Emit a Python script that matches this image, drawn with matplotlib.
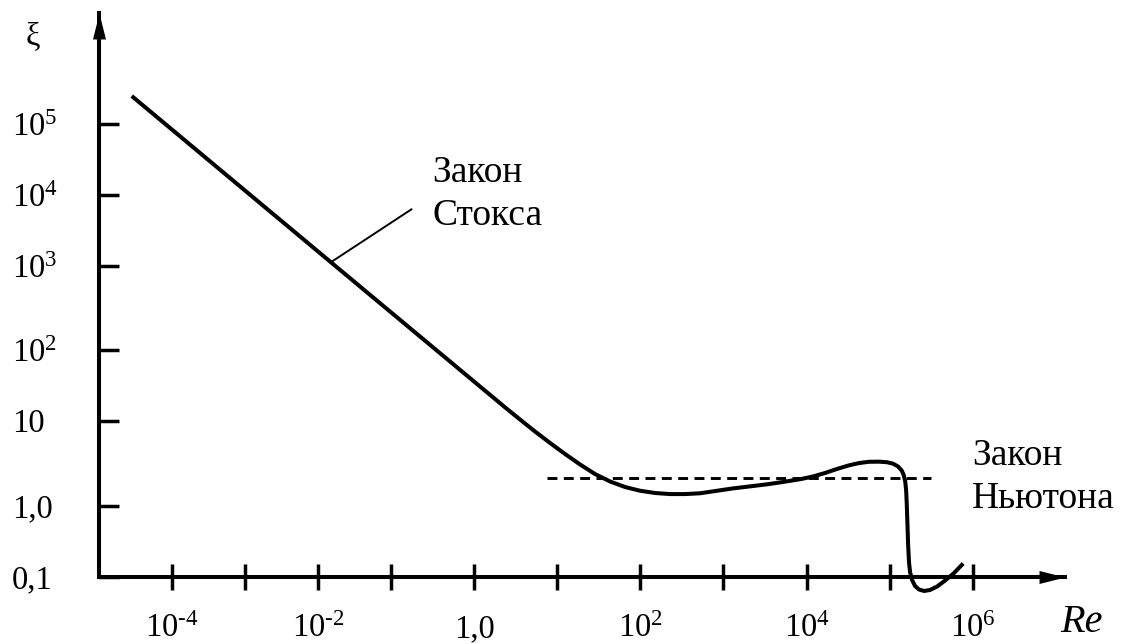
import numpy as np
import matplotlib
matplotlib.use("Agg")
import matplotlib.pyplot as plt
from matplotlib.path import Path

plt.rcParams["font.family"] = ["Liberation Serif", "DejaVu Serif"]
plt.rcParams["mathtext.fontset"] = "custom"
plt.rcParams["mathtext.rm"] = "Liberation Serif"
plt.rcParams["mathtext.it"] = "Liberation Serif"

# ---------------- data ----------------
re_curve = [2.81e-5, 0.0274, 2.36, 3.58, 5.43, 8.24, 12.5, 18.9, 28.7, 43.5,
            65.9, 100, 152, 230, 348, 528, 1320, 2110, 3390, 5280,
            8470, 1.18e4, 1.65e4, 2.30e4, 3.21e4, 4.24e4, 5.59e4, 7.36e4,
            9.20e4, 1.09e5, 1.25e5, 1.38e5, 1.46e5, 1.52e5, 1.56e5, 1.59e5,
            1.62e5, 1.65e5, 1.69e5, 1.74e5, 1.84e5, 2.00e5, 2.23e5, 2.57e5,
            3.03e5, 3.68e5, 4.60e5, 5.90e5, 7.59e5]
xi_curve = [2.48e5, 713, 15.5, 10.4, 7.47, 5.48, 4.07, 3.07, 2.37, 1.94,
            1.67, 1.51, 1.42, 1.38, 1.38, 1.41, 1.61, 1.70, 1.80, 1.92,
            2.07, 2.22, 2.44, 2.72, 3.00, 3.19, 3.30, 3.31,
            3.26, 3.13, 2.90, 2.61, 2.31, 1.96, 1.54, 1.03,
            0.539, 0.281, 0.161, 0.1165, 0.0898, 0.0738, 0.0659, 0.0628,
            0.0649, 0.0726, 0.0883, 0.1128, 0.1537]

newton_re = [7.59, 3.12e5]
newton_xi = [2.15, 2.15]

stokes_point = (0.0146, 1100)
stokes_leader_end = (0.177, 6300)

HY = "\u2010"  # short hyphen used in the exponents of the original
x_ticks = [1e-4, 1e-3, 1e-2, 1e-1, 1, 1e1, 1e2, 1e3, 1e4, 1e5, 1e6]
x_labels = ["$10^{" + HY + "4}$", "", "$10^{" + HY + "2}$", "", "1,0", "",
            r"$10^{2}$", "", r"$10^{4}$", "", r"$10^{6}$"]
y_ticks = [0.1, 1, 10, 1e2, 1e3, 1e4, 1e5]
y_labels = ["0,1", "1,0", "10", r"$10^{2}$", r"$10^{3}$", r"$10^{4}$", r"$10^{5}$"]

# ---------------- hand-drawn (uneven) decade spacing of the axes ----------------
XD = np.array([-10, -4, -3, -2, -1, 0, 1, 2, 3, 4, 5, 6, 12], float)
XP = np.array([172 - 6 * 73, 172, 245, 318, 391, 474, 557, 640, 723, 807, 890, 973,
               973 + 6 * 83], float)
YD = np.array([-7, -1, 0, 1, 2, 3, 4, 5, 11], float)
YP = np.array([67.3 - 6 * 70.7, 67.3, 138, 223.3, 293.7, 378.3, 449, 520, 520 + 6 * 71])


def fx(v):
    return np.interp(np.log10(np.clip(v, 1e-300, None)), XD, XP)


def ix(p):
    return 10 ** np.interp(p, XP, XD)


def fy(v):
    return np.interp(np.log10(np.clip(v, 1e-300, None)), YD, YP)


def iy(p):
    return 10 ** np.interp(p, YP, YD)


W, H = 1122, 644
fig = plt.figure(figsize=(W / 100, H / 100), dpi=100)
x0, x1 = 99, 1065
y0, y1 = 576.7, 12.7
ax = fig.add_axes([x0 / W, (H - y0) / H, (x1 - x0) / W, (y0 - y1) / H])
ax.set_xscale("function", functions=(fx, ix))
ax.set_yscale("function", functions=(fy, iy))
ax.set_xlim(1e-5, 1.28e7)
ax.set_ylim(0.1, 3.70e6)

for s in ["top", "right"]:
    ax.spines[s].set_visible(False)
for s in ["left", "bottom"]:
    ax.spines[s].set_linewidth(2.9)
    ax.spines[s].set_capstyle("projecting")

ax.set_xticks(x_ticks)
ax.set_xticklabels(x_labels, fontsize=23.5)
ax.set_yticks(y_ticks)
ax.set_yticklabels(y_labels, fontsize=23.5)
ax.minorticks_off()
ax.tick_params(axis="x", direction="inout", length=18.7, width=2.5, pad=17)
ax.tick_params(axis="y", direction="in", length=14.4, width=2.5, pad=62.6)
for lab in ax.get_yticklabels():
    lab.set_horizontalalignment("left")

# arrow heads of the axes
up = Path([(0, 0), (-0.5, -2), (0.5, -2), (0, 0)],
          [Path.MOVETO, Path.LINETO, Path.LINETO, Path.CLOSEPOLY])
right = Path([(0, 0), (-2, 0.5), (-2, -0.5), (0, 0)],
             [Path.MOVETO, Path.LINETO, Path.LINETO, Path.CLOSEPOLY])
ax.plot([0], [1], marker=up, ms=37.4, color="black", mew=0,
        transform=ax.transAxes, clip_on=False)
ax.plot([1], [0], marker=right, ms=37.4, color="black", mew=0,
        transform=ax.transAxes, clip_on=False)

# curve
ax.plot(re_curve, xi_curve, color="black", lw=2.9, solid_joinstyle="round",
        solid_capstyle="butt", clip_on=False)
# Newton's law (dashed)
ax.plot(newton_re, newton_xi, color="black", lw=2.1, ls=(0, (3.4, 2.2)),
        clip_on=False)
# Stokes leader
ax.annotate("", xy=stokes_point, xytext=stokes_leader_end,
            arrowprops=dict(arrowstyle="-", lw=1.4, color="black",
                            shrinkA=0, shrinkB=0))

# annotation texts
def ftext(px, py, s, **kw):
    fig.text(px / W, 1 - py / H, s, **kw)

ftext(432, 182, "Закон", fontsize=27, ha="left", va="baseline")
ftext(432, 225, "Стокса", fontsize=27, ha="left", va="baseline")
ftext(972, 465, "Закон", fontsize=27, ha="left", va="baseline")
ftext(972, 508, "Ньютона", fontsize=27, ha="left", va="baseline")
ftext(33, 37, "ξ", fontsize=23.5, ha="center", va="center")
ftext(1081, 632, "Re", fontsize=29, style="italic", ha="center", va="baseline")

fig.savefig("out.png", dpi=100, facecolor="white")
